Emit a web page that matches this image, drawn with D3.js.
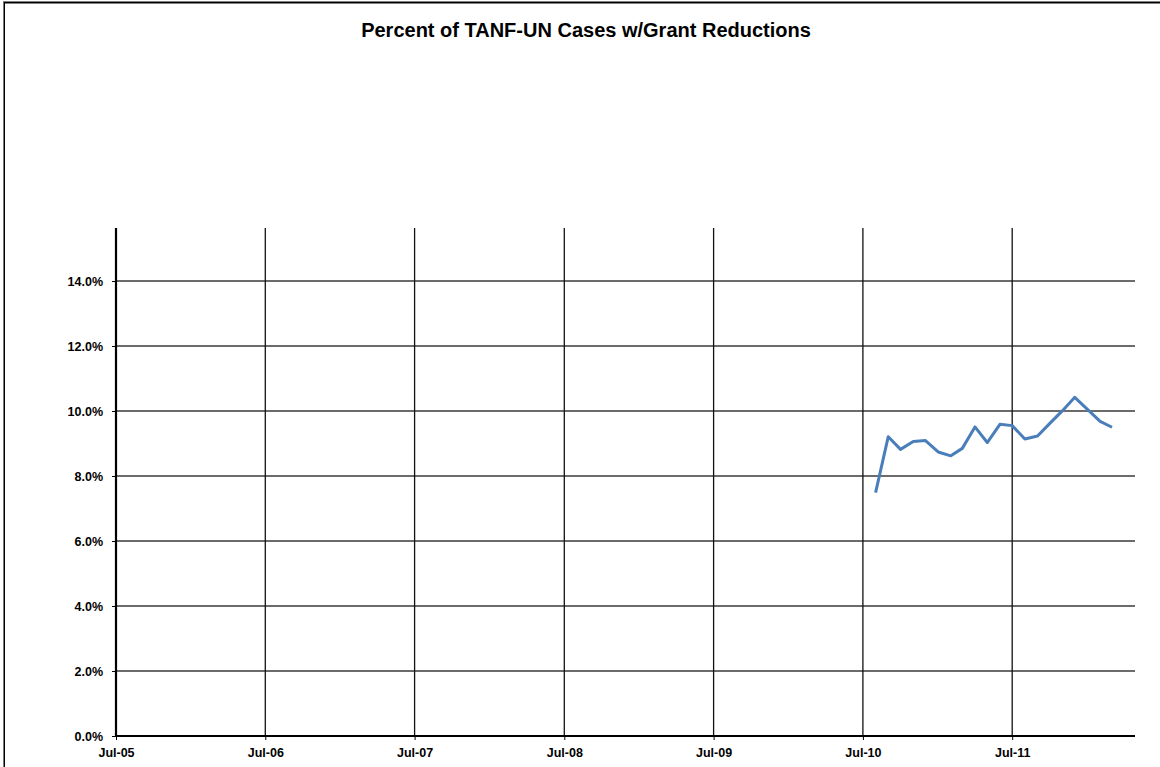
<!DOCTYPE html>
<head>
<meta charset="utf-8">
<title>Percent of TANF-UN Cases w/Grant Reductions</title>
<style>
body {
  margin: 0;
  padding: 0;
  background: #fff;
  font-family: "Liberation Sans", Arial, sans-serif;
}
.tick text {
  font-size: 12.5px;
  font-weight: bold;
  fill: #000;
}
</style>
</head>
<body>
<svg id="viz" width="1160" height="767"></svg>
<script src="https://d3js.org/d3.v7.min.js"></script>
<script>
// monthly values, Aug-10 .. Mar-12
var months = ['2010-08','2010-09','2010-10','2010-11','2010-12','2011-01','2011-02','2011-03',
  '2011-04','2011-05','2011-06','2011-07','2011-08','2011-09','2011-10','2011-11','2011-12',
  '2012-01','2012-02','2012-03']
var pct = [7.49, 9.21, 8.82, 9.06, 9.09, 8.74, 8.62, 8.85, 9.51, 9.03, 9.59, 9.55,
  9.14, 9.23, 9.62, 10.01, 10.42, 10.05, 9.68, 9.50]
var yTicks = [0, 2, 4, 6, 8, 10, 12, 14]
var xTicks = ['2005-07','2006-07','2007-07','2008-07','2009-07','2010-07','2011-07']

var parse = d3.timeParse('%Y-%m')
var data = months.map(function(m, i) { return { date: parse(m), value: pct[i] } })

var svg = d3.select('#viz')

// chart frame (only top and left edges show)
svg.append('rect')
  .attr('x', 4).attr('y', 2.5)
  .attr('width', 1200).attr('height', 800)
  .attr('fill', 'none')
  .attr('stroke', '#000').attr('stroke-width', 2)
svg.append('line')
  .attr('x1', 3.5).attr('x2', 3.5).attr('y1', 2).attr('y2', 767)
  .attr('stroke', '#777').attr('stroke-width', 1)

svg.append('text')
  .attr('x', 586).attr('y', 37)
  .attr('text-anchor', 'middle')
  .style('font-size', '20px')
  .style('font-weight', 'bold')
  .text('Percent of TANF-UN Cases w/Grant Reductions')

var plotL = 116, plotR = 1135, plotT = 228, plotB = 736

// one year = ~149.4px
var t0 = parse('2005-07')
var x = d3.scaleTime()
  .domain([t0, new Date(t0.getTime() + (plotR - plotL) / 149.4 * 365.25 * 864e5)])
  .range([plotL, plotR])

var y = d3.scaleLinear()
  .domain([0, (plotB - plotT) / 32.5])
  .range([plotB, plotT])

// horizontal gridlines
svg.append('g')
  .selectAll('line')
  .data(yTicks.slice(1))
  .enter().append('line')
    .attr('x1', plotL).attr('x2', plotR)
    .attr('y1', function(d) { return y(d) }).attr('y2', function(d) { return y(d) })
    .attr('stroke', '#3a3a3a').attr('stroke-width', 1.3)

// vertical gridlines
svg.append('g')
  .selectAll('line')
  .data(xTicks.slice(1))
  .enter().append('line')
    .attr('x1', function(d) { return x(parse(d)) }).attr('x2', function(d) { return x(parse(d)) })
    .attr('y1', plotT).attr('y2', plotB)
    .attr('stroke', '#111').attr('stroke-width', 1.3)

var yAxis = svg.append('g')
  .attr('transform', 'translate(' + plotL + ',0)')
  .call(d3.axisLeft(y).tickValues(yTicks).tickSize(4).tickPadding(9)
    .tickFormat(function(d) { return d.toFixed(1) + '%' }))
yAxis.select('.domain').remove()
yAxis.append('line')
  .attr('x1', 0).attr('x2', 0).attr('y1', plotT).attr('y2', plotB)
  .attr('stroke', '#000').attr('stroke-width', 2.2)

var xAxis = svg.append('g')
  .attr('transform', 'translate(0,' + plotB + ')')
  .call(d3.axisBottom(x).tickValues(xTicks.map(parse)).tickSize(4).tickPadding(8)
    .tickFormat(d3.timeFormat('%b-%y')))
xAxis.select('.domain').remove()
xAxis.append('line')
  .attr('x1', plotL).attr('x2', plotR).attr('y1', 0).attr('y2', 0)
  .attr('stroke', '#000').attr('stroke-width', 2.2)

var line = d3.line()
  .x(function(d) { return x(d.date) })
  .y(function(d) { return y(d.value) })

svg.append('path')
  .datum(data)
  .attr('d', line)
  .attr('fill', 'none')
  .attr('stroke', '#4a7ebb')
  .attr('stroke-width', 3)
  .attr('stroke-linejoin', 'round')
</script>
</body>
</html>
